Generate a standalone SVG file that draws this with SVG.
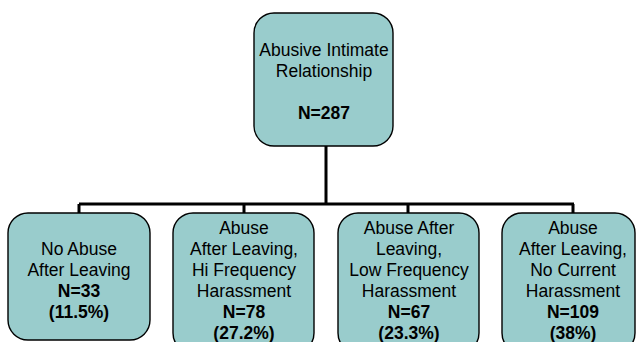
<svg xmlns="http://www.w3.org/2000/svg" width="638" height="342" viewBox="0 0 638 342">
<style>
.box{fill:#99cccc;stroke:#000;stroke-width:1.4}
.t{font-family:"Liberation Sans",Arial,sans-serif;font-size:17.5px;fill:#000;text-anchor:middle}
.b{font-weight:bold}
.c{fill:none;stroke:#000;stroke-width:3}
</style>
<rect width="638" height="342" fill="#fff"/>
<g id="connectors">
<path class="c" d="M326 146V204M79 204H574M79 204V213M244 204V213M408 204V213M573 204V213"/>
</g>
<g id="root">
<rect class="box" x="254" y="13" width="139" height="133" rx="20"/>
<text class="t" x="324" y="56">Abusive Intimate</text>
<text class="t" x="324" y="77">Relationship</text>
<text class="t b" x="324" y="119">N=287</text>
</g>
<g id="n1">
<rect class="box" x="8" y="213" width="142" height="127" rx="20"/>
<text class="t" x="79" y="255">No Abuse</text>
<text class="t" x="79" y="276">After Leaving</text>
<text class="t b" x="79" y="297">N=33</text>
<text class="t b" x="79" y="318">(11.5%)</text>
</g>
<g id="n2">
<rect class="box" x="173" y="213" width="141" height="140" rx="20"/>
<text class="t" x="244" y="234">Abuse</text>
<text class="t" x="244" y="255">After Leaving,</text>
<text class="t" x="244" y="276">Hi Frequency</text>
<text class="t" x="244" y="297">Harassment</text>
<text class="t b" x="244" y="318">N=78</text>
<text class="t b" x="244" y="339">(27.2%)</text>
</g>
<g id="n3">
<rect class="box" x="338" y="213" width="141" height="140" rx="20"/>
<text class="t" x="409" y="234">Abuse After</text>
<text class="t" x="409" y="255">Leaving,</text>
<text class="t" x="409" y="276">Low Frequency</text>
<text class="t" x="409" y="297">Harassment</text>
<text class="t b" x="409" y="318">N=67</text>
<text class="t b" x="409" y="339">(23.3%)</text>
</g>
<g id="n4">
<rect class="box" x="502" y="213" width="133" height="140" rx="20"/>
<text class="t" x="573" y="234">Abuse</text>
<text class="t" x="573" y="255">After Leaving,</text>
<text class="t" x="573" y="276">No Current</text>
<text class="t" x="573" y="297">Harassment</text>
<text class="t b" x="573" y="318">N=109</text>
<text class="t b" x="573" y="339">(38%)</text>
</g>
</svg>
